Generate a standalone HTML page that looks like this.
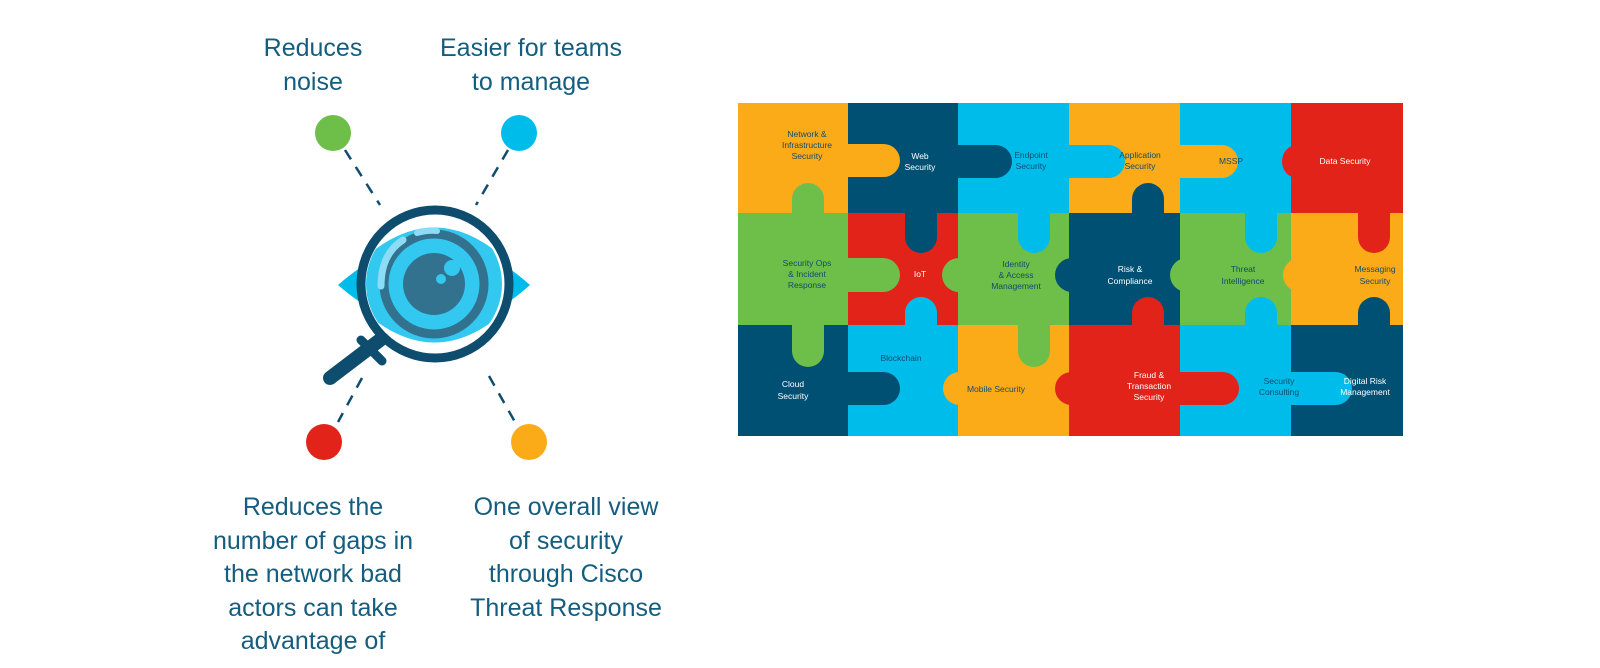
<!DOCTYPE html>
<html><head><meta charset="utf-8"><style>
html,body{margin:0;padding:0;background:#fff;width:1600px;height:668px;overflow:hidden}
svg{display:block}
.t{font-family:"Liberation Sans",sans-serif;font-size:25px;fill:#145d7f;text-anchor:middle}
.p{font-family:"Liberation Sans",sans-serif;font-size:8.5px;text-anchor:middle}
.dk{fill:#0e4d6e}.wh{fill:#fff}
</style></head><body>
<svg width="1600" height="668" viewBox="0 0 1600 668">
<text class="t" x="313" y="56">Reduces</text><text class="t" x="313" y="90">noise</text>
<text class="t" x="531" y="56">Easier for teams</text><text class="t" x="531" y="90">to manage</text>
<text class="t" x="313" y="515">Reduces the</text>
<text class="t" x="313" y="549">number of gaps in</text>
<text class="t" x="313" y="582">the network bad</text>
<text class="t" x="313" y="616">actors can take</text>
<text class="t" x="313" y="649">advantage of</text>
<text class="t" x="566" y="515">One overall view</text>
<text class="t" x="566" y="549">of security</text>
<text class="t" x="566" y="582">through Cisco</text>
<text class="t" x="566" y="616">Threat Response</text>
<circle cx="333" cy="133" r="18" fill="#6ebe4a"/>
<circle cx="519" cy="133" r="18" fill="#00bceb"/>
<circle cx="324" cy="442" r="18" fill="#e2231a"/>
<circle cx="529" cy="442" r="18" fill="#fbab18"/>
<g stroke="#0e4d6e" stroke-width="2.5" stroke-dasharray="11,9" fill="none">
<line x1="345" y1="150" x2="380" y2="205"/>
<line x1="508" y1="150" x2="476" y2="205"/>
<line x1="362" y1="378" x2="338" y2="422"/>
<line x1="489" y1="376" x2="515" y2="422"/>
</g>
<path d="M338,285 Q435,200 530,285 Q435,370 338,285 Z" fill="#00bceb"/>
<circle cx="435" cy="284" r="72" fill="#fff"/>
<clipPath id="al"><path d="M338,285 Q435,170 530,285 Q435,400 338,285 Z"/></clipPath>
<circle cx="434" cy="284" r="68" fill="#33c8f0" clip-path="url(#al)"/>
<circle cx="434" cy="284" r="50" fill="none" stroke="#33728f" stroke-width="9"/>
<circle cx="434" cy="284" r="31" fill="#33728f"/>
<circle cx="452" cy="268" r="8" fill="#33c8f0"/>
<circle cx="441" cy="279" r="5" fill="#33c8f0"/>
<path d="M381,286 Q381,254 403,240" fill="none" stroke="#8ddcf5" stroke-width="7" stroke-linecap="round"/>
<path d="M417,233 Q428,230 437,231" fill="none" stroke="#8ddcf5" stroke-width="6" stroke-linecap="round"/>
<circle cx="435" cy="284" r="74" fill="none" stroke="#0e4d6e" stroke-width="9"/>
<line x1="330" y1="378" x2="380" y2="340" stroke="#0e4d6e" stroke-width="14" stroke-linecap="round"/>
<line x1="361" y1="340" x2="382" y2="361" stroke="#0e4d6e" stroke-width="9" stroke-linecap="round"/>
<g>
<rect x="738" y="103" width="111" height="111" fill="#fbab18"/>
<rect x="848" y="103" width="111" height="111" fill="#005073"/>
<rect x="958" y="103" width="112" height="111" fill="#00bceb"/>
<rect x="1069" y="103" width="112" height="111" fill="#fbab18"/>
<rect x="1180" y="103" width="112" height="111" fill="#00bceb"/>
<rect x="1291" y="103" width="112" height="111" fill="#e2231a"/>
<rect x="738" y="213" width="111" height="113" fill="#6ebe4a"/>
<rect x="848" y="213" width="111" height="113" fill="#e2231a"/>
<rect x="958" y="213" width="112" height="113" fill="#6ebe4a"/>
<rect x="1069" y="213" width="112" height="113" fill="#005073"/>
<rect x="1180" y="213" width="112" height="113" fill="#6ebe4a"/>
<rect x="1291" y="213" width="112" height="113" fill="#fbab18"/>
<rect x="738" y="325" width="111" height="111" fill="#005073"/>
<rect x="848" y="325" width="111" height="111" fill="#00bceb"/>
<rect x="958" y="325" width="112" height="111" fill="#fbab18"/>
<rect x="1069" y="325" width="112" height="111" fill="#e2231a"/>
<rect x="1180" y="325" width="112" height="111" fill="#00bceb"/>
<rect x="1291" y="325" width="112" height="111" fill="#005073"/>
<rect x="830" y="144" width="70" height="33" rx="16.5" fill="#fbab18"/>
<rect x="940" y="145" width="72" height="33" rx="16.5" fill="#005073"/>
<rect x="1050" y="145" width="75" height="33" rx="16.5" fill="#00bceb"/>
<rect x="1160" y="145" width="78" height="33" rx="16.5" fill="#fbab18"/>
<rect x="1282" y="145" width="30" height="33" rx="16.5" fill="#e2231a"/>
<rect x="830" y="258" width="70" height="34" rx="17" fill="#6ebe4a"/>
<rect x="942" y="258" width="40" height="34" rx="17" fill="#6ebe4a"/>
<rect x="1055" y="258" width="40" height="34" rx="17" fill="#005073"/>
<rect x="1170" y="258" width="40" height="34" rx="17" fill="#6ebe4a"/>
<rect x="1283" y="258" width="40" height="34" rx="17" fill="#fbab18"/>
<rect x="830" y="372" width="70" height="33" rx="16.5" fill="#005073"/>
<rect x="943" y="372" width="40" height="33" rx="16.5" fill="#fbab18"/>
<rect x="1055" y="372" width="40" height="33" rx="16.5" fill="#e2231a"/>
<rect x="1160" y="372" width="79" height="33" rx="16.5" fill="#e2231a"/>
<rect x="1270" y="372" width="82" height="33" rx="16.5" fill="#00bceb"/>
<rect x="792" y="183" width="32" height="50" rx="16" fill="#6ebe4a"/>
<rect x="1132" y="183" width="32" height="50" rx="16" fill="#005073"/>
<rect x="905" y="195" width="32" height="58" rx="16" fill="#005073"/>
<rect x="1018" y="195" width="32" height="58" rx="16" fill="#00bceb"/>
<rect x="1245" y="195" width="32" height="58" rx="16" fill="#00bceb"/>
<rect x="1358" y="195" width="32" height="58" rx="16" fill="#e2231a"/>
<rect x="905" y="297" width="32" height="48" rx="16" fill="#00bceb"/>
<rect x="1132" y="297" width="32" height="48" rx="16" fill="#e2231a"/>
<rect x="1245" y="297" width="32" height="48" rx="16" fill="#00bceb"/>
<rect x="1358" y="297" width="32" height="48" rx="16" fill="#005073"/>
<rect x="792" y="305" width="32" height="62" rx="16" fill="#6ebe4a"/>
<rect x="1018" y="305" width="32" height="62" rx="16" fill="#6ebe4a"/>
</g>
<g class="p">
<text class="p dk" x="807" y="137">Network &amp;</text><text class="p dk" x="807" y="148">Infrastructure</text><text class="p dk" x="807" y="159">Security</text>
<text class="p wh" x="920" y="159">Web</text><text class="p wh" x="920" y="170">Security</text>
<text class="p dk" x="1031" y="158">Endpoint</text><text class="p dk" x="1031" y="169">Security</text>
<text class="p dk" x="1140" y="158">Application</text><text class="p dk" x="1140" y="169">Security</text>
<text class="p dk" x="1231" y="164">MSSP</text>
<text class="p wh" x="1345" y="164">Data Security</text>
<text class="p dk" x="807" y="266">Security Ops</text><text class="p dk" x="807" y="277">&amp; Incident</text><text class="p dk" x="807" y="288">Response</text>
<text class="p wh" x="920" y="277">IoT</text>
<text class="p dk" x="1016" y="267">Identity</text><text class="p dk" x="1016" y="278">&amp; Access</text><text class="p dk" x="1016" y="289">Management</text>
<text class="p wh" x="1130" y="272">Risk &amp;</text><text class="p wh" x="1130" y="284">Compliance</text>
<text class="p dk" x="1243" y="272">Threat</text><text class="p dk" x="1243" y="284">Intelligence</text>
<text class="p dk" x="1375" y="272">Messaging</text><text class="p dk" x="1375" y="284">Security</text>
<text class="p wh" x="793" y="387">Cloud</text><text class="p wh" x="793" y="399">Security</text>
<text class="p dk" x="901" y="361">Blockchain</text>
<text class="p dk" x="996" y="392">Mobile Security</text>
<text class="p wh" x="1149" y="378">Fraud &amp;</text><text class="p wh" x="1149" y="389">Transaction</text><text class="p wh" x="1149" y="400">Security</text>
<text class="p dk" x="1279" y="384">Security</text><text class="p dk" x="1279" y="395">Consulting</text>
<text class="p wh" x="1365" y="384">Digital Risk</text><text class="p wh" x="1365" y="395">Management</text>
</g>
</svg>
</body></html>
